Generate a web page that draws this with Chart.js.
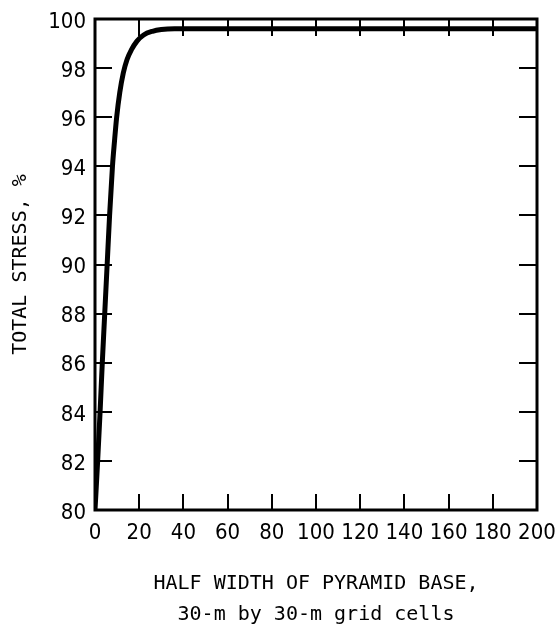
<!DOCTYPE html>
<html>
<head>
<meta charset="utf-8">
<script src="https://cdn.jsdelivr.net/npm/chart.js@4.4.1/dist/chart.umd.min.js"></script>
<style>
  html, body { margin: 0; padding: 0; background: #fff; }
  canvas { display: block; }
</style>
</head>
<body>
<canvas id="stressChart" width="556" height="635"></canvas>
<script>
// half width of pyramid base (grid cells) and total stress (%)
const halfWidth = [0, 1.2, 2.3, 3.3, 4.4, 5.5, 6.6, 7.9, 8.8, 9.8, 11.2, 12.8, 14.5, 16.5, 19, 22, 26, 30, 36, 50, 200];
const totalStress = [80, 82, 84, 86, 88, 90, 92, 94, 95, 96, 97, 97.8, 98.35, 98.75, 99.1, 99.35, 99.5, 99.57, 99.6, 99.6, 99.6];

const xTitle = ['HALF WIDTH OF PYRAMID BASE,', '30-m by 30-m grid cells'];
const yTitle = 'TOTAL STRESS, %';

const tickFont = { family: '"DejaVu Sans Condensed", "Liberation Sans Narrow", sans-serif', size: 22 };
const titleFont = { family: '"DejaVu Sans Mono", monospace', size: 20 };

// box around the plot with ticks pointing inward on all four sides
const frameTicks = {
  id: 'frameTicks',
  afterDatasetsDraw(chart) {
    const { ctx, chartArea: a, scales: { x, y } } = chart;
    ctx.save();
    ctx.strokeStyle = '#000';
    ctx.lineWidth = 2;
    ctx.beginPath();
    x.ticks.forEach(t => {
      if (t.value <= x.min || t.value >= x.max) return;
      const px = Math.round(x.getPixelForValue(t.value));
      ctx.moveTo(px, a.bottom);
      ctx.lineTo(px, a.bottom - 16);
      ctx.moveTo(px, a.top);
      ctx.lineTo(px, a.top + 17);
    });
    y.ticks.forEach(t => {
      if (t.value <= y.min || t.value >= y.max) return;
      const py = Math.round(y.getPixelForValue(t.value));
      ctx.moveTo(a.left, py);
      ctx.lineTo(a.left + 17, py);
      ctx.moveTo(a.right, py);
      ctx.lineTo(a.right - 18, py);
    });
    ctx.stroke();
    ctx.lineWidth = 3;
    ctx.strokeRect(a.left, a.top, a.right - a.left, a.bottom - a.top);
    ctx.restore();
  }
};

const ctx = document.getElementById('stressChart').getContext('2d');
new Chart(ctx, {
  type: 'line',
  data: {
    datasets: [{
      data: halfWidth.map((v, i) => ({ x: v, y: totalStress[i] })),
      borderColor: '#000',
      borderWidth: 5,
      pointRadius: 0,
      cubicInterpolationMode: 'monotone',
      fill: false
    }]
  },
  options: {
    responsive: false,
    animation: false,
    layout: { padding: { top: 19, right: 19, left: 0, bottom: 0 } },
    plugins: {
      legend: { display: false },
      tooltip: { enabled: false }
    },
    scales: {
      x: {
        type: 'linear',
        min: 0,
        max: 200,
        grid: { display: false, drawTicks: false },
        border: { display: false },
        ticks: { stepSize: 20, autoSkip: false, color: '#000', font: tickFont, padding: 10, maxRotation: 0 },
        title: {
          display: true,
          text: xTitle,
          color: '#000',
          font: { ...titleFont, lineHeight: '31px' },
          padding: { top: 0, bottom: 5 }
        },
        afterFit(scale) {
          scale.height = 125;
          scale.paddingLeft = 0;
          scale.paddingRight = 0;
        }
      },
      y: {
        min: 80,
        max: 100,
        grid: { display: false, drawTicks: false },
        border: { display: false },
        ticks: { stepSize: 2, autoSkip: false, color: '#000', font: tickFont, padding: 9, labelOffset: 3 },
        title: {
          display: true,
          text: yTitle,
          color: '#000',
          font: titleFont,
          padding: { top: 9, bottom: 0 }
        },
        afterFit(scale) {
          scale.width = 95;
          scale.paddingTop = 0;
          scale.paddingBottom = 0;
        }
      }
    }
  },
  plugins: [frameTicks]
});
</script>
</body>
</html>
